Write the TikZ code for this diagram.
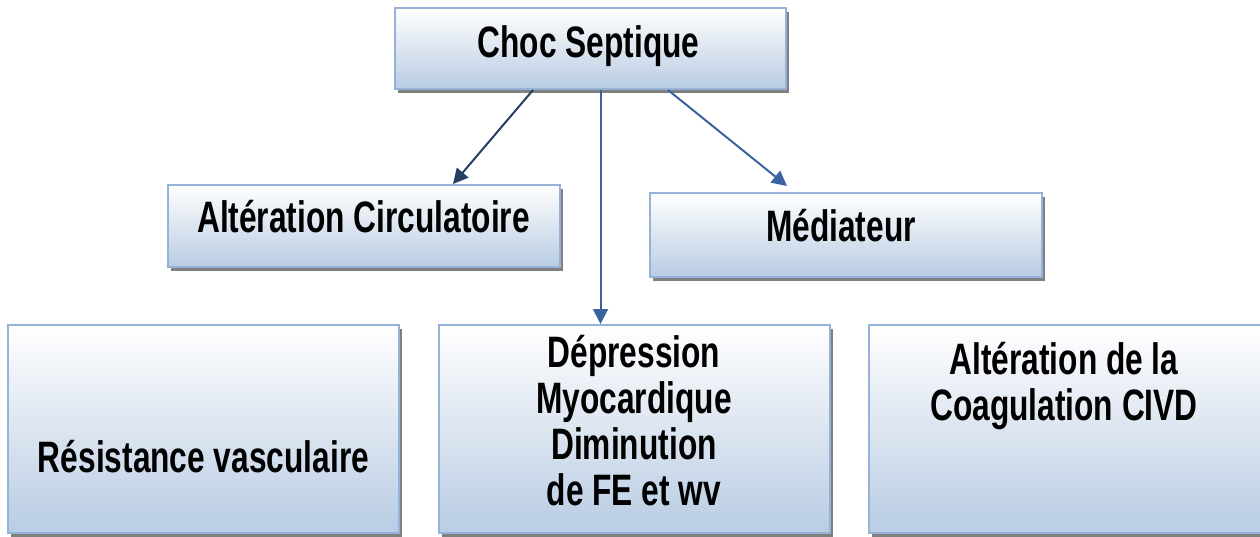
\documentclass[tikz,border=0pt]{standalone}
\usepackage{fontspec}
\newfontfamily\lab{Liberation Sans}[FakeStretch=0.72]
\usetikzlibrary{shadows,arrows.meta}
\definecolor{boxline}{HTML}{95B3D7}
\definecolor{boxbot}{HTML}{B8CCE4}
\definecolor{boxmid}{HTML}{DCE5F0}
\definecolor{arrdark}{HTML}{243F60}
\definecolor{arrblue}{HTML}{3A64A0}
\tikzset{
  box/.style={draw=boxline, line width=2pt, rectangle, inner sep=0pt,
    top color=white, bottom color=boxbot, middle color=boxmid,
    drop shadow={shadow xshift=3pt, shadow yshift=-4pt, fill=black!50, opacity=1}},
  txt/.style={anchor=base, inner sep=0pt, align=center,
    font=\lab\bfseries\fontsize{44}{46}\selectfont},
  conn/.style={line width=2pt, -{Triangle[length=15pt,width=15pt]}}
}
\begin{document}
\begin{tikzpicture}[x=1pt,y=-1pt]
\useasboundingbox (0,0) rectangle (1260,537);
\node[box, minimum width=391pt, minimum height=81pt] (top) at (590.5,48.5) {};
\node[box, minimum width=392pt, minimum height=82pt] (alt) at (364,226) {};
\node[box, minimum width=392pt, minimum height=84pt] (med) at (846,235) {};
\node[box, minimum width=391pt, minimum height=208pt] (res) at (203.5,429) {};
\node[box, minimum width=391pt, minimum height=208pt] (dep) at (634.5,429) {};
\node[box, minimum width=392pt, minimum height=208pt] (coag) at (1065,429) {};

\node[txt] (ttop) at (588.5,58) {Choc Septique};
\node[txt] (talt) at (363.5,233) {Altération Circulatoire};
\node[txt] (tmed) at (841,242) {Médiateur};
\node[txt] (tres) at (203.5,472) {Résistance vasculaire};
\node[txt] (tdep) at (634,505) {Dépression\\Myocardique\\Diminution\\de FE et wv};
\node[txt] (tcoag) at (1064,420) {Altération de la\\Coagulation CIVD};

\draw[conn, arrdark] ([xshift=-57.5pt]top.south) -- ([xshift=89pt]alt.north);
\draw[conn, arrblue] ([xshift=10pt]top.south) -- ([xshift=-34pt]dep.north);
\draw[conn, arrblue] ([xshift=77.5pt]top.south) -- ([xshift=-59pt,yshift=6pt]med.north);
\end{tikzpicture}
\end{document}
